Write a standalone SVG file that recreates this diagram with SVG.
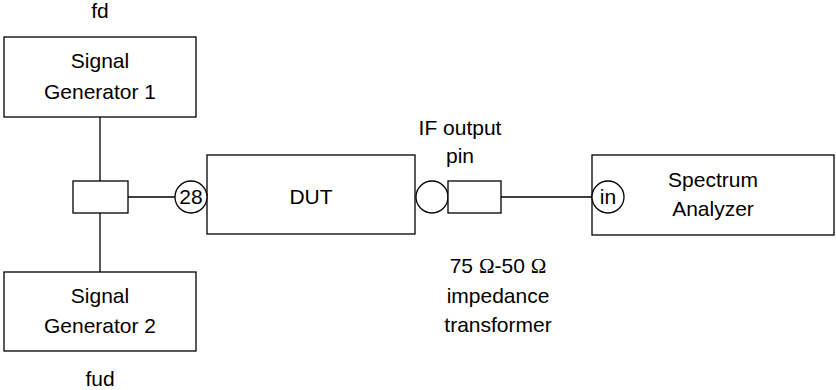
<svg xmlns="http://www.w3.org/2000/svg" width="836" height="390" viewBox="0 0 836 390">
<style>
.b{fill:#fff;stroke:#000;stroke-width:1.3}
.l{stroke:#000;stroke-width:1.3;fill:none}
text{font-family:"Liberation Sans",Arial,sans-serif;font-size:21px;fill:#000;text-anchor:middle}
.o{font-family:"Liberation Serif","Times New Roman",serif}
</style>
<rect width="836" height="390" fill="#fff"/>
<g id="connectors">
<line class="l" x1="100" y1="117" x2="100" y2="181"/>
<line class="l" x1="100" y1="213" x2="100" y2="272"/>
<line class="l" x1="128" y1="197" x2="175" y2="197"/>
<line class="l" x1="501" y1="197" x2="592" y2="197"/>
</g>
<g id="sg1">
<rect class="b" x="4" y="37" width="192" height="80"/>
<text x="100" y="68">Signal</text>
<text x="100" y="99">Generator 1</text>
</g>
<text x="100" y="18">fd</text>
<g id="sg2">
<rect class="b" x="4" y="272" width="192" height="79"/>
<text x="100" y="303">Signal</text>
<text x="100" y="333">Generator 2</text>
</g>
<text x="100" y="386">fud</text>
<g id="combiner">
<rect class="b" x="73" y="181" width="55" height="32"/>
</g>
<g id="dut">
<rect class="b" x="207" y="155" width="208" height="79"/>
<text x="311" y="204">DUT</text>
</g>
<g id="pin28">
<circle class="b" cx="191" cy="197" r="16"/>
<text x="191" y="204">28</text>
</g>
<g id="ifpin">
<circle class="b" cx="432" cy="197" r="16"/>
</g>
<text x="460" y="135">IF output</text>
<text x="460" y="163">pin</text>
<g id="transformer">
<rect class="b" x="448" y="181" width="53" height="32"/>
</g>
<text x="498" y="273">75 <tspan class="o">Ω</tspan>-50 <tspan class="o">Ω</tspan></text>
<text x="498" y="303">impedance</text>
<text x="498" y="332">transformer</text>
<g id="sa">
<rect class="b" x="592" y="155" width="242" height="80"/>
<text x="713" y="187">Spectrum</text>
<text x="713" y="216">Analyzer</text>
</g>
<g id="in">
<circle class="b" cx="608" cy="197" r="16"/>
<text x="608" y="204">in</text>
</g>
</svg>
